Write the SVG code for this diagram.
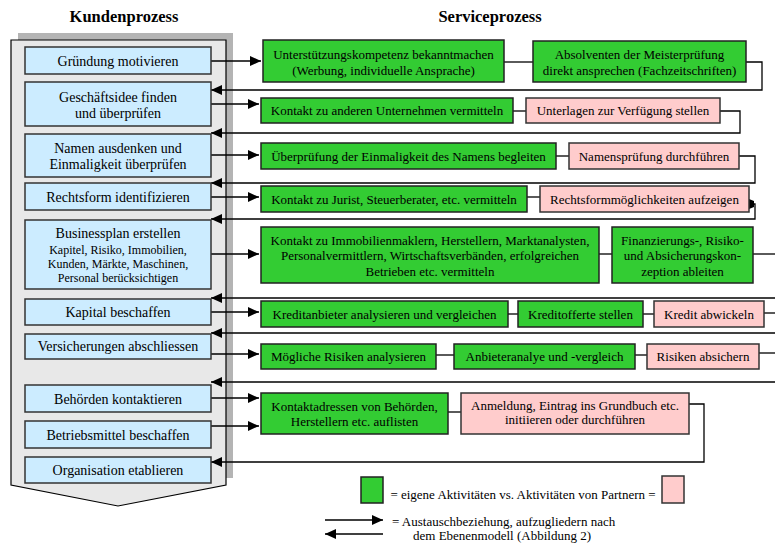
<svg xmlns="http://www.w3.org/2000/svg" width="775" height="545" viewBox="0 0 775 545">
<defs>
<marker id="ah" markerUnits="userSpaceOnUse" markerWidth="12" markerHeight="10" refX="11" refY="5" orient="auto">
<path d="M0,0 L11,5 L0,10 Z" fill="#000"/>
</marker>
<style>
text{font-family:"Liberation Serif","Times New Roman",serif;fill:#000;text-anchor:middle}
.t{font-size:16.5px;font-weight:bold}
.k{font-size:14px}
.ks{font-size:12px}
.s{font-size:13px}
.b{fill:#CCECFF;stroke:#333;stroke-width:1.5}
.g{fill:#33CC33;stroke:#222;stroke-width:1.5}
.p{fill:#FFCCCC;stroke:#333;stroke-width:1.5}
.c{fill:none;stroke:#000;stroke-width:1.3}
.a{fill:none;stroke:#000;stroke-width:1.3;marker-end:url(#ah)}
</style>
</defs>
<rect width="775" height="545" fill="#fff"/>
<text class="t" x="124" y="22">Kundenprozess</text>
<text class="t" x="490" y="22">Serviceprozess</text>
<g id="container">
<rect x="18" y="33" width="215" height="445" fill="#B4B4B4"/>
<path d="M11,40 H226 V485 L118,506 L11,485 Z" fill="#E8E8E8" stroke="#000" stroke-width="1.2"/>
</g>
<g id="connectors">
<path class="a" d="M211,61 H261"/>
<path class="a" d="M211,104 H259"/>
<path class="a" d="M211,155 H259"/>
<path class="a" d="M211,197 H259"/>
<path class="a" d="M211,254 H259"/>
<path class="a" d="M211,312 H259"/>
<path class="a" d="M211,354 H259"/>
<path class="a" d="M211,398 H259"/>
<path class="a" d="M211,426 H259"/>
<path class="a" d="M746,62 H762 V90 H211"/>
<path class="a" d="M720,111 H740 V133 H211"/>
<path class="a" d="M739,156 H755 V183 H211"/>
<path class="a" d="M750,204 H755 V219 H211"/>
<path d="M749,199 L754,201 L754,207 L749,209 Z" fill="#000"/>
<path class="a" d="M775,298 H211"/>
<path class="a" d="M775,333 H211"/>
<path class="a" d="M775,382 H211"/>
<path class="a" d="M689,404 H704 V462 H211"/>
<path class="c" d="M504,62 H533"/>
<path class="c" d="M513,111 H526"/>
<path class="c" d="M556,156 H569"/>
<path class="c" d="M527,197 H540"/>
<path class="c" d="M599,254 H612"/>
<path class="c" d="M753,254 H775"/>
<path class="c" d="M508,314 H518"/>
<path class="c" d="M643,314 H654"/>
<path class="c" d="M764,313 H775"/>
<path class="c" d="M436,355 H454"/>
<path class="c" d="M635,355 H647"/>
<path class="c" d="M759,353 H775"/>
<path class="c" d="M448,412 H461"/>
</g>
<g id="k1"><rect class="b" x="25" y="47" width="186" height="27"/><text class="k" x="118" y="65.5">Gründung motivieren</text></g>
<g id="k2"><rect class="b" x="25" y="82" width="186" height="44"/><text class="k" x="118" y="101.5">Geschäftsidee finden</text><text class="k" x="118" y="118">und überprüfen</text></g>
<g id="k3"><rect class="b" x="25" y="134" width="186" height="43"/><text class="k" x="118" y="152.5">Namen ausdenken und</text><text class="k" x="118" y="169">Einmaligkeit überprüfen</text></g>
<g id="k4"><rect class="b" x="25" y="183" width="186" height="27"/><text class="k" x="118" y="201.5">Rechtsform identifizieren</text></g>
<g id="k5"><rect class="b" x="25" y="220" width="186" height="69"/><text class="k" x="118" y="238">Businessplan erstellen</text><text class="ks" x="118" y="254">Kapitel, Risiko, Immobilien,</text><text class="ks" x="118" y="267.5">Kunden, Märkte, Maschinen,</text><text class="ks" x="118" y="281.5">Personal berücksichtigen</text></g>
<g id="k6"><rect class="b" x="25" y="299" width="186" height="26"/><text class="k" x="118" y="316.5">Kapital beschaffen</text></g>
<g id="k7"><rect class="b" x="25" y="334" width="186" height="25"/><text class="k" x="118" y="351">Versicherungen abschliessen</text></g>
<g id="k8"><rect class="b" x="25" y="385" width="186" height="27"/><text class="k" x="118" y="403.5">Behörden kontaktieren</text></g>
<g id="k9"><rect class="b" x="25" y="421" width="186" height="27"/><text class="k" x="118" y="439.5">Betriebsmittel beschaffen</text></g>
<g id="k10"><rect class="b" x="25" y="457" width="186" height="26"/><text class="k" x="118" y="475">Organisation etablieren</text></g>
<g id="s1a"><rect class="g" x="263" y="40" width="241" height="42"/><text class="s" x="383.5" y="58.5">Unterstützungskompetenz bekanntmachen</text><text class="s" x="383.5" y="74.5">(Werbung, individuelle Ansprache)</text></g>
<g id="s1b"><rect class="g" x="533" y="41" width="213" height="41"/><text class="s" x="639.5" y="58.5">Absolventen der Meisterprüfung</text><text class="s" x="639.5" y="74.5">direkt ansprechen (Fachzeitschriften)</text></g>
<g id="s2a"><rect class="g" x="261" y="98" width="252" height="25"/><text class="s" x="387" y="115">Kontakt zu anderen Unternehmen vermitteln</text></g>
<g id="s2b"><rect class="p" x="526" y="98" width="194" height="25"/><text class="s" x="623" y="115">Unterlagen zur Verfügung stellen</text></g>
<g id="s3a"><rect class="g" x="261" y="143" width="295" height="26"/><text class="s" x="408.5" y="160.5">Überprüfung der Einmaligkeit des Namens begleiten</text></g>
<g id="s3b"><rect class="p" x="569" y="143" width="170" height="26"/><text class="s" x="654" y="160.5">Namensprüfung durchführen</text></g>
<g id="s4a"><rect class="g" x="261" y="186" width="266" height="26"/><text class="s" x="394" y="203.5">Kontakt zu Jurist, Steuerberater, etc. vermitteln</text></g>
<g id="s4b"><rect class="p" x="540" y="186" width="209" height="26"/><text class="s" x="644.5" y="203.5">Rechtsformmöglichkeiten aufzeigen</text></g>
<g id="s5a"><rect class="g" x="261" y="227" width="338" height="56"/><text class="s" x="430" y="244.5">Kontakt zu Immobilienmaklern, Herstellern, Marktanalysten,</text><text class="s" x="430" y="260">Personalvermittlern, Wirtschaftsverbänden, erfolgreichen</text><text class="s" x="430" y="276">Betrieben etc. vermitteln</text></g>
<g id="s5b"><rect class="g" x="612" y="227" width="141" height="56"/><text class="s" x="682.5" y="244.5">Finanzierungs-, Risiko-</text><text class="s" x="682.5" y="260">und Absicherungskon-</text><text class="s" x="682.5" y="276">zeption ableiten</text></g>
<g id="s6a"><rect class="g" x="261" y="301" width="247" height="26"/><text class="s" x="384.5" y="318.5">Kreditanbieter analysieren und vergleichen</text></g>
<g id="s6b"><rect class="g" x="518" y="301" width="125" height="26"/><text class="s" x="580.5" y="318.5">Kreditofferte stellen</text></g>
<g id="s6c"><rect class="p" x="654" y="301" width="110" height="26"/><text class="s" x="709" y="318.5">Kredit abwickeln</text></g>
<g id="s7a"><rect class="g" x="261" y="344" width="175" height="25"/><text class="s" x="348.5" y="361">Mögliche Risiken analysieren</text></g>
<g id="s7b"><rect class="g" x="454" y="344" width="181" height="25"/><text class="s" x="544.5" y="361">Anbieteranalye und -vergleich</text></g>
<g id="s7c"><rect class="p" x="647" y="344" width="112" height="25"/><text class="s" x="703" y="361">Risiken absichern</text></g>
<g id="s8a"><rect class="g" x="261" y="393" width="187" height="41"/><text class="s" x="354.5" y="410.5">Kontaktadressen von Behörden,</text><text class="s" x="354.5" y="426">Herstellern etc. auflisten</text></g>
<g id="s8b"><rect class="p" x="461" y="393" width="228" height="41"/><text class="s" x="575" y="409.5">Anmeldung, Eintrag ins Grundbuch etc.</text><text class="s" x="575" y="424">initiieren oder durchführen</text></g>
<g id="legend">
<rect class="g" x="361" y="477" width="22" height="26"/>
<text class="s" x="523" y="498.5">= eigene Aktivitäten vs. Aktivitäten von Partnern =</text>
<rect class="p" x="662" y="476" width="22" height="27"/>
<path class="a" d="M325,520 H383"/>
<path class="a" d="M383,534 H325"/>
<text class="s" x="392" y="526" style="text-anchor:start">= Austauschbeziehung, aufzugliedern nach</text>
<text class="s" x="413" y="540" style="text-anchor:start">dem Ebenenmodell (Abbildung 2)</text>
</g>
</svg>
